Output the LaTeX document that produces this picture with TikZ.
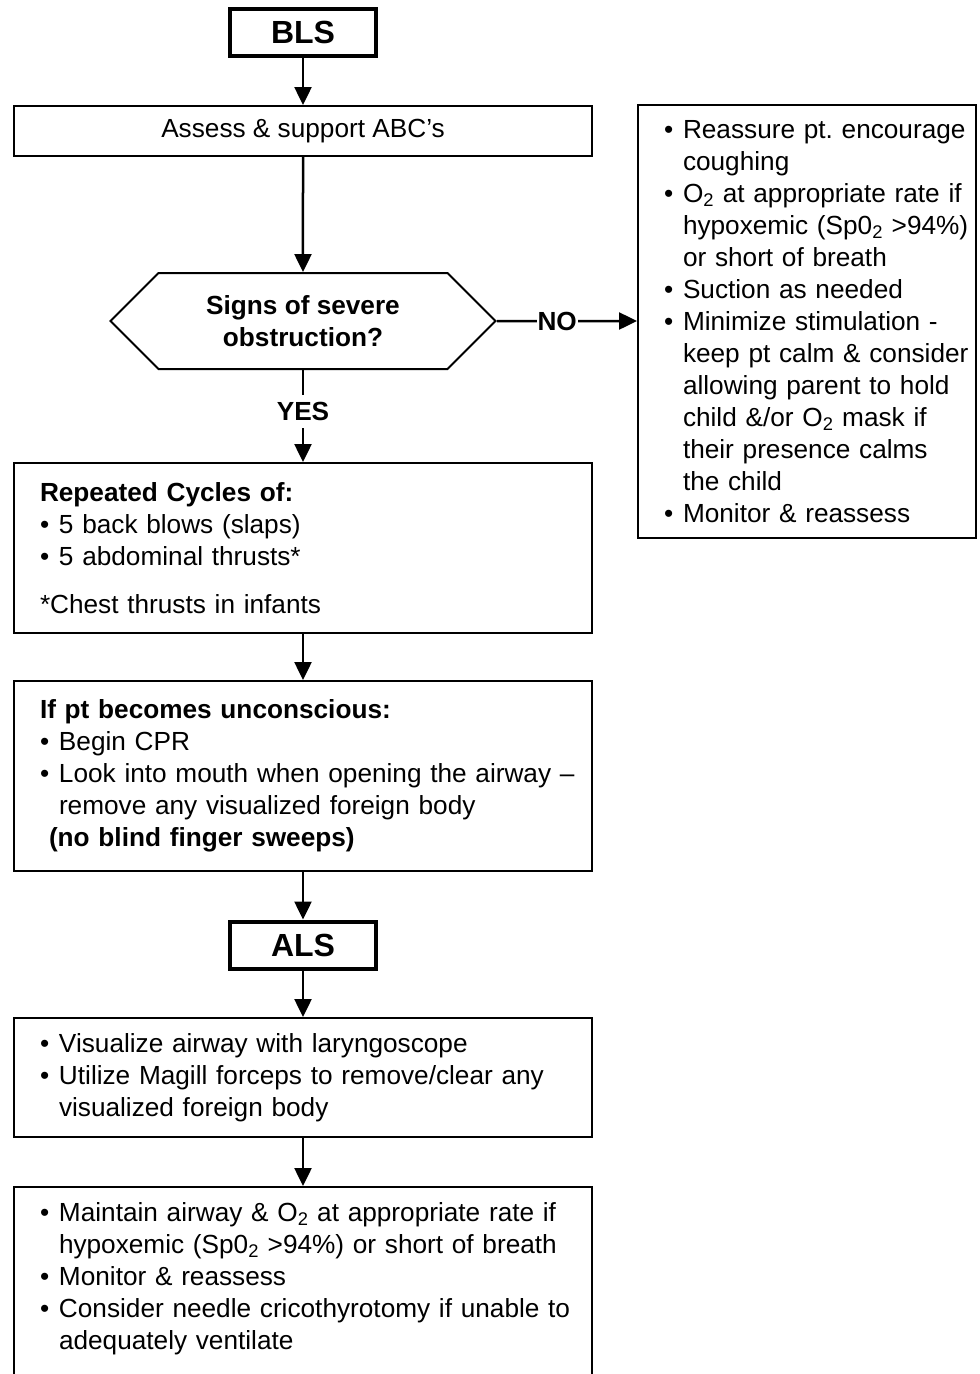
\documentclass[tikz,border=0pt]{standalone}
\usepackage{fontspec}
\setsansfont{Liberation Sans}
\usetikzlibrary{arrows.meta,shapes.symbols}
\frenchspacing
\newcommand{\bul}{\makebox[19pt][l]{\textbullet}}
\newcommand{\ind}{\hspace*{19pt}}
\newcommand{\Otwo}{O\textsubscript{2}}

\begin{document}
\begin{tikzpicture}[x=1pt,y=-1pt,font=\sffamily\fontsize{26.2}{32}\selectfont,>={Triangle[length=18pt,width=17pt]},
 title/.style={draw,line width=4pt,minimum width=146pt,minimum height=47pt,inner sep=0pt,font=\sffamily\bfseries\fontsize{32}{38}\selectfont},
 plain/.style={draw,line width=2pt,minimum width=578pt,minimum height=50pt,inner sep=0pt},
 list/.style={draw,line width=2pt,inner xsep=0pt,inner ysep=0pt,minimum width=#1,text width=#1-20pt,align=left,
  execute at begin node={\frenchspacing\leftskip=16pt\rightskip=-20pt plus 1fil}},
 test/.style={draw,line width=2pt,signal,signal to=east and west,signal pointer angle=90,minimum width=385pt,minimum height=96pt,inner sep=0pt,align=center,font=\sffamily\bfseries\fontsize{26.2}{32}\selectfont},
 flow/.style={line width=2.5pt,->},
 answer/.style={fill=white,font=\sffamily\bfseries\fontsize{26.2}{32}\selectfont,inner xsep=1pt,inner ysep=7pt}]
\useasboundingbox (0,0) rectangle (980,1374);
\node[title] (bls) at (303,32.5) {BLS};
\node[plain] (assess) at (303,131) {Assess \& support ABC's};
\node[test] (severe) at (303,321) {Signs of severe\\obstruction?};
\node[list=338pt,minimum height=433pt] (mild) at (807,321.5) {\bul Reassure pt. encourage\\ \ind coughing\\ \bul \Otwo{} at appropriate rate if\\ \ind hypoxemic (Sp0\textsubscript{2} >94\%)\\ \ind or short of breath\\ \bul Suction as needed\\ \bul Minimize stimulation -\\ \ind keep pt calm \& consider\\ \ind allowing parent to hold\\ \ind child \&/or \Otwo{} mask if\\ \ind their presence calms\\ \ind the child\\ \bul Monitor \& reassess};
\node[list=578pt,minimum height=170pt] (cycles) at (303,548) {\textbf{Repeated Cycles of:}\\ \bul 5 back blows (slaps)\\ \bul 5 abdominal thrusts*\\[16pt] *Chest thrusts in infants};
\node[list=578pt,minimum height=190pt] (unconscious) at (303,776) {\textbf{If pt becomes unconscious:}\\ \bul Begin CPR\\ \bul Look into mouth when opening the airway --\\ \ind remove any visualized foreign body\\ \hspace*{9pt}\textbf{(no blind finger sweeps)}};
\node[title] (als) at (303,945) {ALS};
\node[list=578pt,minimum height=119pt] (magill) at (303,1077.5) {\bul Visualize airway with laryngoscope\\ \bul Utilize Magill forceps to remove/clear any\\ \ind visualized foreign body};
\node[list=578pt,minimum height=210pt] (maintain) at (303,1292) {\bul Maintain airway \& \Otwo{} at appropriate rate if\\ \ind hypoxemic (Sp0\textsubscript{2} >94\%) or short of breath\\ \bul Monitor \& reassess\\ \bul Consider needle cricothyrotomy if unable to\\ \ind adequately ventilate\\ \mbox{}};
\draw[flow] (bls)--(assess);
\draw[flow] (assess)--(severe);
\draw[flow] (severe)-- node[answer,pos=0.45] {YES} (cycles);
\draw[flow] (severe)-- node[answer,pos=0.43] {NO} (severe -| mild.west);
\draw[flow] (cycles)--(unconscious);
\draw[flow] (unconscious)--(als);
\draw[flow] (als)--(magill);
\draw[flow] (magill)--(maintain);
\end{tikzpicture}
\end{document}
